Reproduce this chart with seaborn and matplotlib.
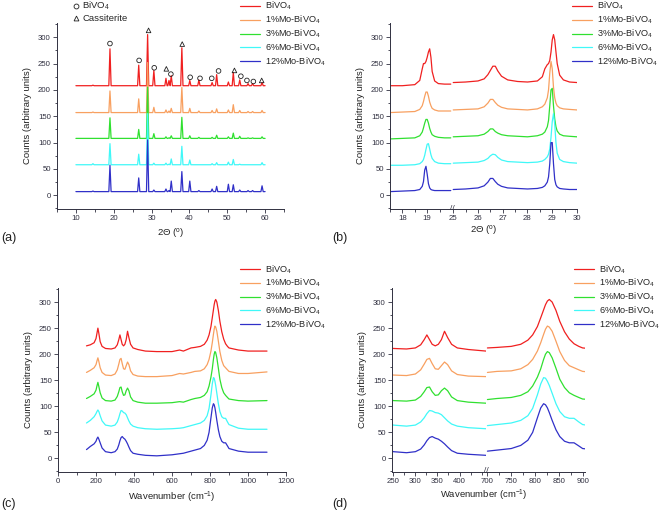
import matplotlib
matplotlib.use('Agg')
import matplotlib.pyplot as plt
from matplotlib.lines import Line2D
from matplotlib.ticker import MultipleLocator
import pandas as pd
import seaborn as sns

samples = ['BiVO$_4$', '1%Mo-BiVO$_4$', '3%Mo-BiVO$_4$', '6%Mo-BiVO$_4$', '12%Mo-BiVO$_4$']
colors = ['#f02020', '#f8a060', '#30e030', '#40f8f8', '#3030c8']

# (a) XRD 10-60, sharp reflections
a_peaks = [14.5, 19.0, 26.6, 28.95, 30.6, 33.8, 34.6, 35.2, 38.0, 40.1, 42.5, 46.0, 47.2, 50.3, 51.6, 53.3, 55.5, 56.7, 59.2]
a_base = [208, 157, 108, 58, 7]
a_h_bivo4 = [209, 278, 247, 305, 237, 222, 218, 227, 280, 218, 219, 214, 229, 215, 233, 219, 212, 212, 214]
a_h_mo1 = [158, 198, 183, 252, 167, 162, 160, 165, 205, 165, 160, 161, 164, 162, 172, 161, 159, 159, 161]
a_h_mo3 = [108, 147, 125, 205, 117, 111, 109, 113, 148, 113, 110, 110, 114, 111, 118, 112, 109, 109, 111]
a_h_mo6 = [60, 98, 78, 155, 61, 61, 59, 69, 93, 67, 58, 60, 62, 63, 68, 59, 58, 58, 62]
a_h_mo12 = [8, 57, 33, 105, 10, 12, 9, 27, 45, 27, 9, 12, 17, 21, 20, 10, 9, 9, 18]

# phase markers above the BiVO4 trace
bivo4_pos = [19.0, 26.7, 30.7, 35.1, 40.2, 42.8, 45.9, 47.7, 53.6, 55.2, 56.9]
bivo4_y = [288, 256, 242, 230, 224, 222, 222, 236, 226, 218, 216]
cass_pos = [29.2, 33.9, 38.1, 51.9, 59.1]
cass_y = [313, 240, 287, 237, 218]

# (b) XRD detail, broken axis 17.5-20 | 25-30
b_x = [17.5, 18.0, 18.5, 18.7, 18.8, 18.85, 18.9, 18.95, 19.0, 19.05, 19.1, 19.15, 19.2, 19.3, 19.45, 19.7, 19.95,
       25.0, 25.5, 26.0, 26.25, 26.4, 26.5, 26.6, 26.7, 26.8, 26.95, 27.2, 27.6, 28.0, 28.4, 28.6, 28.7, 28.8,
       28.85, 28.9, 28.95, 29.0, 29.05, 29.1, 29.15, 29.2, 29.3, 29.45, 29.7, 30.0]
b_bivo4 = [208, 208, 210, 218, 240, 250, 250, 254, 262, 272, 278, 262, 235, 217, 212, 211, 211,
           214, 215, 217, 221, 229, 237, 245, 245, 236, 226, 219, 216, 215, 217, 225, 240, 248,
           250, 256, 272, 295, 305, 295, 272, 250, 228, 219, 215, 214]
b_mo1 = [157, 158, 159, 163, 170, 178, 188, 196, 196, 188, 177, 170, 165, 162, 160, 160, 160,
         162, 163, 164, 168, 175, 182, 182, 176, 171, 167, 164, 163, 162, 164, 168, 173, 185,
         200, 232, 254, 240, 205, 185, 175, 170, 166, 164, 163, 162]
b_mo3 = [107, 108, 109, 113, 120, 128, 137, 144, 144, 137, 127, 120, 115, 112, 110, 109, 109,
         111, 112, 113, 116, 121, 126, 126, 121, 118, 115, 113, 112, 111, 113, 116, 120, 130,
         142, 170, 200, 203, 170, 145, 130, 122, 116, 113, 112, 111]
b_mo6 = [57, 57, 58, 60, 64, 68, 76, 87, 97, 98, 88, 77, 70, 64, 61, 60, 60,
         61, 62, 63, 66, 70, 75, 78, 77, 72, 67, 64, 63, 62, 63, 65, 68, 73,
         78, 88, 110, 140, 155, 135, 100, 80, 68, 64, 62, 61]
b_mo12 = [7, 8, 9, 11, 17, 26, 48, 55, 40, 22, 14, 11, 10, 9, 9, 9, 9,
          11, 12, 14, 18, 25, 32, 32, 26, 21, 17, 14, 13, 12, 13, 15, 18, 25,
          35, 60, 100, 100, 60, 30, 20, 16, 13, 12, 11, 11]

# (c)/(d) Raman
r_x = [150, 170, 190, 200, 205, 210, 215, 222, 232, 250, 280, 300, 312, 320, 326, 332, 338, 345, 352, 359,
       366, 373, 382, 395, 420, 460, 520, 600, 640, 660, 700, 720, 750, 770, 785, 795, 805, 812, 818, 822,
       826, 830, 836, 844, 852, 862, 872, 882, 892, 900, 950, 1000, 1100]
r_bivo4 = [216, 218, 222, 230, 240, 250, 240, 224, 215, 211, 210, 212, 218, 228, 237, 228, 219, 216, 219, 228,
           244, 232, 219, 212, 209, 206, 205, 205, 208, 206, 212, 213, 215, 219, 227, 237, 253, 270, 285, 295,
           302, 305, 300, 284, 263, 243, 229, 220, 215, 212, 208, 206, 206]
r_mo1 = [165, 169, 174, 180, 187, 193, 186, 174, 165, 160, 159, 162, 170, 181, 190, 192, 182, 172, 171, 178,
         185, 180, 168, 161, 158, 157, 157, 159, 163, 162, 165, 167, 168, 172, 180, 190, 206, 222, 238, 248,
         254, 252, 244, 225, 205, 188, 178, 174, 170, 167, 163, 163, 166]
r_mo3 = [115, 119, 124, 131, 139, 146, 138, 126, 116, 111, 110, 112, 119, 128, 136, 137, 128, 121, 122, 130,
         135, 130, 118, 111, 108, 106, 106, 107, 109, 108, 113, 115, 117, 121, 128, 139, 156, 172, 190, 200,
         205, 203, 193, 173, 152, 136, 126, 121, 117, 114, 111, 110, 111]
r_mo6 = [68, 73, 80, 86, 90, 93, 90, 82, 72, 64, 62, 64, 70, 78, 86, 92, 91, 88, 87, 84,
         78, 72, 66, 62, 59, 57, 56, 57, 58, 59, 63, 65, 68, 73, 82, 96, 122, 143, 155, 154,
         148, 140, 125, 105, 90, 80, 77, 77, 70, 65, 58, 56, 56]
r_mo12 = [17, 23, 28, 33, 38, 41, 37, 30, 20, 13, 11, 13, 18, 26, 34, 40, 42, 39, 37, 33,
          28, 22, 15, 10, 8, 6, 5, 7, 9, 10, 14, 16, 19, 25, 35, 50, 78, 97, 105, 103,
          97, 88, 73, 55, 42, 33, 30, 30, 24, 19, 14, 12, 12]

W, H = 662, 513


def long_frame(x, series):
    rows = []
    for name, ys in zip(samples, series):
        rows += [(xv, yv, name) for xv, yv in zip(x, ys)]
    return pd.DataFrame(rows, columns=['x', 'y', 'sample'])


def xrd_frame():
    rows = []
    heights = [a_h_bivo4, a_h_mo1, a_h_mo3, a_h_mo6, a_h_mo12]
    for name, base, hs in zip(samples, a_base, heights):
        rows.append((10.0, base, name))
        for p, h in zip(a_peaks, hs):
            rows += [(p - 0.3, base, name), (p, h, name), (p + 0.3, base, name)]
        rows.append((60.0, base, name))
    return pd.DataFrame(rows, columns=['x', 'y', 'sample'])


def add_ax(l, t, r, b):
    return fig.add_axes([l / W, 1 - b / H, (r - l) / W, (b - t) / H])


def draw(ax, df, legend=False):
    sns.lineplot(data=df, x='x', y='y', hue='sample', hue_order=samples, palette=colors,
                 estimator=None, linewidth=0.9, legend=legend, ax=ax)


def style(ax, major, minor, left=True):
    ax.set_ylim(-26, 327)
    ax.xaxis.set_major_locator(MultipleLocator(major))
    ax.xaxis.set_minor_locator(MultipleLocator(minor))
    ax.yaxis.set_major_locator(MultipleLocator(50))
    ax.yaxis.set_minor_locator(MultipleLocator(25))
    for s in ['top', 'right']:
        ax.spines[s].set_visible(False)
    for s in ['left', 'bottom']:
        ax.spines[s].set_linewidth(0.7)
        ax.spines[s].set_color('#303040')
    ax.tick_params(which='both', direction='out', width=0.6, labelsize=5.6, pad=1.5, colors='#303040')
    ax.tick_params(which='major', length=3)
    ax.tick_params(which='minor', length=1.8)
    ax.set_xlabel('')
    ax.set_ylabel('')
    if left:
        ax.set_ylabel('Counts (arbitrary units)', fontsize=6.8, labelpad=4, color='#222222')
    else:
        ax.spines['left'].set_visible(False)
        ax.tick_params(axis='y', which='both', left=False, labelleft=False)


def legend(ax, x_px, y_px):
    sns.move_legend(ax, 'upper left', bbox_to_anchor=(x_px / W, 1 - y_px / H),
                    bbox_transform=fig.transFigure, frameon=False, title=None, fontsize=6.6,
                    handlelength=2.2, handletextpad=0.5, labelspacing=0.15,
                    borderpad=0, borderaxespad=0)


sns.set_style('ticks')
plt.rcParams['font.family'] = ['Liberation Sans', 'DejaVu Sans']
plt.rcParams['mathtext.fontset'] = 'custom'
plt.rcParams['mathtext.rm'] = 'Liberation Sans'
plt.rcParams['mathtext.it'] = 'Liberation Sans:italic'
plt.rcParams['mathtext.default'] = 'regular'

fig = plt.figure(figsize=(W / 100, H / 100), dpi=100)

# (a)
ax = add_ax(57, 23, 284, 209)
draw(ax, xrd_frame(), legend=True)
ax.scatter(bivo4_pos, bivo4_y, marker='o', facecolors='none', edgecolors='#202020', s=11, linewidths=0.6, zorder=5)
ax.scatter(cass_pos, cass_y, marker='^', facecolors='none', edgecolors='#202020', s=11, linewidths=0.6, zorder=5)
ax.set_xlim(5, 65)
style(ax, 10, 5)
ax.set_xlabel('2Θ ($^{o}$)', fontsize=6.8, labelpad=3, color='#222222')
legend(ax, 240, 0)
marks = [Line2D([], [], marker='o', ls='', mfc='none', mec='#202020', ms=3.5, mew=0.6),
         Line2D([], [], marker='^', ls='', mfc='none', mec='#202020', ms=3.5, mew=0.6)]
fig.legend(marks, ['BiVO$_4$', 'Cassiterite'], loc='upper left', bbox_to_anchor=(72 / W, 1.0),
           frameon=False, fontsize=6.8, handlelength=0.8, handletextpad=0.3, labelspacing=0.15,
           borderpad=0, borderaxespad=0)

# (b)
dfb = long_frame(b_x, [b_bivo4, b_mo1, b_mo3, b_mo6, b_mo12])
axb1 = add_ax(390, 23, 452, 209)
axb2 = add_ax(452, 23, 577, 209)
draw(axb1, dfb[dfb.x <= 20])
draw(axb2, dfb[dfb.x >= 24.9], legend=True)
axb1.set_xlim(17.5, 20)
axb2.set_xlim(24.95, 30)
style(axb1, 1, 0.5)
style(axb2, 1, 0.5, left=False)
axb1.set_xticks([18, 19])
axb1.set_xticks([17.5, 18.5, 19.5], minor=True)
legend(axb2, 572, 0)
fig.text(484 / W, 1 - 230 / H, '2Θ ($^{o}$)', fontsize=6.8, ha='center', va='center', color='#222222')
fig.text(452 / W, 1 - 208 / H, '//', fontsize=6, ha='center', va='center', color='#303040')

# (c)
dfr = long_frame(r_x, [r_bivo4, r_mo1, r_mo3, r_mo6, r_mo12])
axc = add_ax(58, 288, 286, 472)
draw(axc, dfr, legend=True)
axc.set_xlim(0, 1200)
style(axc, 200, 100)
axc.set_xlabel('Wavenumber (cm$^{-1}$)', fontsize=6.8, labelpad=3, color='#222222')
legend(axc, 240, 263)

# (d)
axd1 = add_ax(392, 288, 486, 472)
axd2 = add_ax(486, 288, 585, 472)
draw(axd1, dfr[dfr.x <= 460])
draw(axd2, dfr[dfr.x >= 700], legend=True)
axd1.set_xlim(247, 460)
axd2.set_xlim(697, 905)
style(axd1, 50, 25)
style(axd2, 50, 25, left=False)
axd1.set_xticks([250, 300, 350, 400])
axd1.set_xticks([275, 325, 375, 425, 450], minor=True)
legend(axd2, 574, 263)
fig.text(484 / W, 1 - 495 / H, 'Wavenumber (cm$^{-1}$)', fontsize=6.8, ha='center', va='center', color='#222222')
fig.text(486 / W, 1 - 471 / H, '//', fontsize=6, ha='center', va='center', color='#303040')

for lab, x, y in [('(a)', 1, 238), ('(b)', 332, 238), ('(c)', 1, 504), ('(d)', 332, 504)]:
    fig.text(x / W, 1 - y / H, lab, fontsize=9, ha='left', va='center', color='#222222')

fig.savefig('out.png', dpi=100)
